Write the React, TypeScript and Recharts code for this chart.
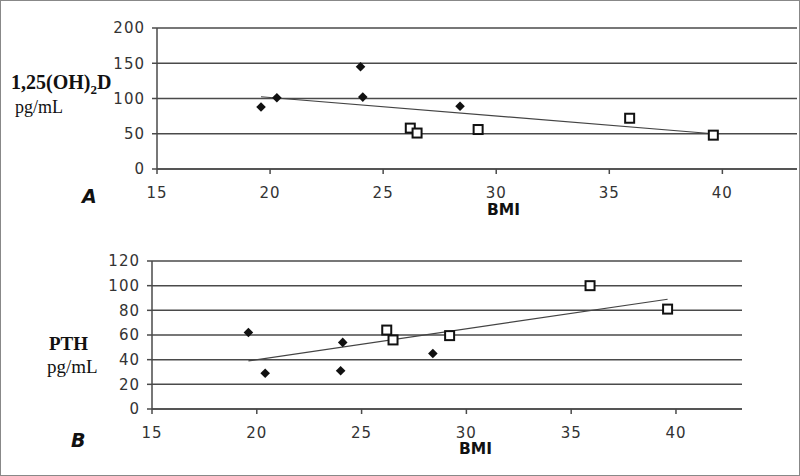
import React from 'react';
import { ScatterChart, Scatter, XAxis, YAxis, CartesianGrid } from 'recharts';

// Panel A: 1,25(OH)2D vs BMI
const bmiDiamondA = [19.6, 20.3, 24.0, 24.1, 28.4];
const vitDDiamond = [88, 101, 145, 102, 89];
const bmiSquareA = [26.2, 26.5, 29.2, 35.9, 39.6];
const vitDSquare = [58, 51, 56, 72, 48];
const trendBmiA = [19.6, 39.6];
const trendVitD = [102.5, 50];

// Panel B: PTH vs BMI
const bmiDiamondB = [19.6, 20.4, 24.1, 24.0, 28.4];
const pthDiamond = [62, 29, 54, 31, 45];
const bmiSquareB = [26.2, 26.5, 29.2, 35.9, 39.6];
const pthSquare = [64, 56, 59.5, 100, 81];
const trendBmiB = [19.6, 39.6];
const trendPth = [39, 89];

const bmiTicks = [15, 20, 25, 30, 35, 40];
const vitDTicks = [0, 50, 100, 150, 200];
const pthTicks = [0, 20, 40, 60, 80, 100, 120];

const toPoints = (xs: number[], ys: number[]) => xs.map((x, i) => ({ x, y: ys[i] }));

const GRID = '#4a4a4a';
const tickStyle = { fill: '#333', fontSize: 15, fontFamily: 'DejaVu Sans, sans-serif', letterSpacing: 1 };

const Diamond = (props: any) => {
  const { cx, cy } = props;
  if (cx == null || cy == null) return <g />;
  const r = 4.8;
  return <polygon points={`${cx},${cy - r} ${cx + r},${cy} ${cx},${cy + r} ${cx - r},${cy}`} fill="#111" />;
};

const Square = (props: any) => {
  const { cx, cy } = props;
  if (cx == null || cy == null) return <g />;
  return <rect x={cx - 4.5} y={cy - 4.5} width={9} height={9} fill="#fff" stroke="#111" strokeWidth={2} />;
};

const NoDot = () => <g />;

const sans = 'DejaVu Sans, Arial, sans-serif';
const serif = '"Liberation Serif", "Times New Roman", serif';

function Label({ x, y, size, bold, italic, font, children }: any) {
  return (
    <div
      style={{
        position: 'absolute',
        left: x,
        top: y,
        fontSize: size,
        fontWeight: bold ? 700 : 400,
        fontStyle: italic ? 'italic' : 'normal',
        fontFamily: font,
        lineHeight: 1,
        color: '#111',
        whiteSpace: 'nowrap',
      }}
    >
      {children}
    </div>
  );
}

export default function App() {
  return (
    <div
      style={{
        position: 'fixed',
        left: 0,
        top: 0,
        width: 800,
        height: 476,
        background: '#fff',
        border: '1px solid #888',
        boxSizing: 'border-box',
        overflow: 'hidden',
      }}
    >
      {/* Panel A */}
      <div style={{ position: 'absolute', left: -1, top: -1 }}>
        <ScatterChart width={800} height={240} margin={{ top: 28, right: 3, bottom: 41, left: 97 }}>
          <CartesianGrid vertical={false} stroke={GRID} strokeWidth={1.5} />
          <XAxis
            type="number"
            dataKey="x"
            domain={[15, 43.3]}
            ticks={bmiTicks}
            allowDataOverflow
            height={30}
            stroke={GRID}
            strokeWidth={1.5}
            tickSize={5}
            tickMargin={13}
            tick={tickStyle}
          />
          <YAxis
            type="number"
            dataKey="y"
            domain={[0, 200]}
            ticks={vitDTicks}
            width={60}
            stroke={GRID}
            strokeWidth={1.5}
            tickSize={5}
            tickMargin={7}
            tick={tickStyle}
          />
          <Scatter data={toPoints(trendBmiA, trendVitD)} line={{ stroke: '#444', strokeWidth: 1.2 }} shape={NoDot} isAnimationActive={false} />
          <Scatter data={toPoints(bmiDiamondA, vitDDiamond)} shape={Diamond} isAnimationActive={false} />
          <Scatter data={toPoints(bmiSquareA, vitDSquare)} shape={Square} isAnimationActive={false} />
        </ScatterChart>
      </div>

      {/* Panel B */}
      <div style={{ position: 'absolute', left: -1, top: 239 }}>
        <ScatterChart width={800} height={236} margin={{ top: 21, right: 58, bottom: 37, left: 92 }}>
          <CartesianGrid vertical={false} stroke={GRID} strokeWidth={1.5} />
          <XAxis
            type="number"
            dataKey="x"
            domain={[15, 43.15]}
            ticks={bmiTicks}
            allowDataOverflow
            height={30}
            stroke={GRID}
            strokeWidth={1.5}
            tickSize={5}
            tickMargin={13}
            tick={tickStyle}
          />
          <YAxis
            type="number"
            dataKey="y"
            domain={[0, 120]}
            ticks={pthTicks}
            width={60}
            stroke={GRID}
            strokeWidth={1.5}
            tickSize={5}
            tickMargin={7}
            tick={tickStyle}
          />
          <Scatter data={toPoints(trendBmiB, trendPth)} line={{ stroke: '#444', strokeWidth: 1.2 }} shape={NoDot} isAnimationActive={false} />
          <Scatter data={toPoints(bmiDiamondB, pthDiamond)} shape={Diamond} isAnimationActive={false} />
          <Scatter data={toPoints(bmiSquareB, pthSquare)} shape={Square} isAnimationActive={false} />
        </ScatterChart>
      </div>

      <Label x={10} y={71} size={20} bold font={serif}>
        1,25(OH)<sub style={{ fontSize: 13 }}>2</sub>D
      </Label>
      <Label x={14} y={97} size={18} font={serif}>pg/mL</Label>
      <Label x={81} y={186} size={19} bold italic font={sans}>A</Label>
      <Label x={486} y={202} size={15.5} bold font={sans}>BMI</Label>

      <Label x={48} y={333} size={19} bold font={serif}>PTH</Label>
      <Label x={46} y={356} size={19} font={serif}>pg/mL</Label>
      <Label x={70} y={430} size={19} bold italic font={sans}>B</Label>
      <Label x={458} y={441} size={15.5} bold font={sans}>BMI</Label>
    </div>
  );
}
